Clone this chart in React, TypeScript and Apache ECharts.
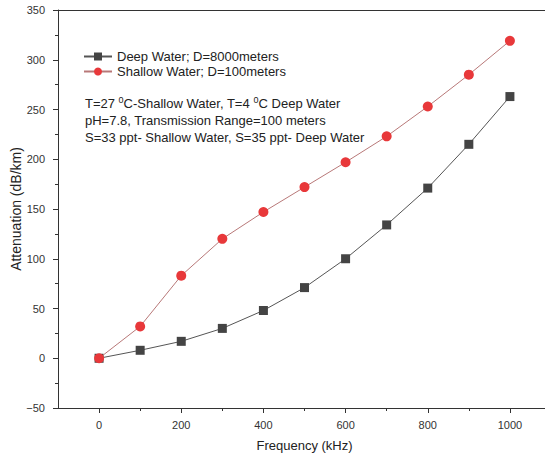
import React, { useEffect, useRef } from "react";
import * as echarts from "echarts";

const frequency = [0, 100, 200, 300, 400, 500, 600, 700, 800, 900, 1000];
const deepWater = [0, 8, 17, 30, 48, 71, 100, 134, 171, 215, 263];
const shallowWater = [0, 32, 83, 120, 147, 172, 197, 223, 253, 285, 319];
const xMajorTicks = [0, 200, 400, 600, 800, 1000];
const xMinorTicks = [100, 300, 500, 700, 900];
const seriesNames = ["Deep Water; D=8000meters", "Shallow Water; D=100meters"];
const noteLines = [
  "T=27 {sup|0}C-Shallow Water, T=4 {sup|0}C Deep Water",
  "pH=7.8, Transmission Range=100 meters",
  "S=33 ppt- Shallow Water, S=35 ppt- Deep Water",
];
const xTitle = "Frequency (kHz)";
const yTitle = "Attenuation (dB/km)";

const FONT = "Arial, 'Liberation Sans', sans-serif";

export default function App() {
  const ref = useRef<HTMLDivElement>(null);
  useEffect(() => {
    if (!ref.current) return;
    const chart = echarts.init(ref.current, undefined, { renderer: "svg" });
    const axisColor = "#333";
    chart.setOption({
      animation: false,
      backgroundColor: "#fff",
      textStyle: { fontFamily: FONT },
      grid: {
        left: 58,
        top: 10,
        width: 493,
        height: 398,
        outerBoundsMode: "none",
        containLabel: false,
        show: false,
      },
      legend: {
        left: 83,
        top: 50,
        padding: 0,
        orient: "vertical",
        itemWidth: 28,
        itemHeight: 10,
        itemGap: 2,
        textStyle: { fontSize: 13, color: "#222", fontFamily: FONT },
        data: seriesNames,
      },
      graphic: [
        {
          type: "text",
          left: 85,
          top: 95,
          style: {
            text: noteLines.join("\n"),
            fontSize: 13,
            lineHeight: 17,
            fill: "#222",
            fontFamily: FONT,
            rich: {
              sup: { fontSize: 9, verticalAlign: "top", lineHeight: 17, fill: "#222", fontFamily: FONT },
            },
          },
        },
        {
          type: "text",
          x: 16,
          y: 209,
          rotation: Math.PI / 2,
          style: {
            text: yTitle,
            fontSize: 14,
            fill: "#222",
            fontFamily: FONT,
            align: "center",
            verticalAlign: "middle",
          },
        },
      ],
      xAxis: [
        {
          type: "value",
          min: -100,
          max: 1100,
          name: xTitle,
          nameLocation: "middle",
          nameGap: 31,
          nameTextStyle: { fontSize: 13, color: "#222", fontFamily: FONT },
          axisLine: { show: true, onZero: false, lineStyle: { color: axisColor, width: 1 } },
          axisTick: { show: true, customValues: xMajorTicks, length: 5, lineStyle: { color: axisColor } },
          axisLabel: {
            customValues: xMajorTicks,
            fontSize: 11,
            color: "#333",
            margin: 11,
            fontFamily: FONT,
            formatter: (v: number) => String(v),
          },
          splitLine: { show: false },
        },
        {
          type: "value",
          min: -100,
          max: 1100,
          position: "bottom",
          axisLine: { show: false, onZero: false },
          axisTick: { show: true, customValues: xMinorTicks, length: 3, lineStyle: { color: axisColor } },
          axisLabel: { show: false },
          splitLine: { show: false },
        },
        {
          type: "value",
          min: -100,
          max: 1100,
          position: "top",
          axisLine: { show: true, onZero: false, lineStyle: { color: axisColor, width: 1 } },
          axisTick: { show: false },
          axisLabel: { show: false },
          splitLine: { show: false },
        },
      ],
      yAxis: {
        type: "value",
        min: -50,
        max: 350,
        interval: 50,
        axisLine: { show: true, onZero: false, lineStyle: { color: axisColor, width: 1 } },
        axisTick: { show: true, length: 5, lineStyle: { color: axisColor } },
        minorTick: { show: true, splitNumber: 2, length: 3, lineStyle: { color: axisColor } },
        axisLabel: {
          fontSize: 11,
          color: "#333",
          margin: 13,
          fontFamily: FONT,
          formatter: (v: number) => (v < 0 ? "\u2212" + String(-v) : String(v)),
        },
        splitLine: { show: false },
      },
      series: [
        {
          name: seriesNames[0],
          type: "line",
          xAxisIndex: 0,
          data: frequency.map((f, i) => [f, deepWater[i]]),
          symbol: "rect",
          symbolSize: 9,
          itemStyle: { color: "#444" },
          lineStyle: { color: "#555", width: 1 },
          z: 2,
        },
        {
          name: seriesNames[1],
          type: "line",
          xAxisIndex: 0,
          data: frequency.map((f, i) => [f, shallowWater[i]]),
          symbol: "circle",
          symbolSize: 10,
          itemStyle: { color: "#e8383a" },
          lineStyle: { color: "#b87878", width: 1 },
          z: 3,
        },
      ],
    });
    return () => chart.dispose();
  }, []);
  return <div ref={ref} style={{ width: 545, height: 457, position: "absolute", left: 0, top: 0 }} />;
}
